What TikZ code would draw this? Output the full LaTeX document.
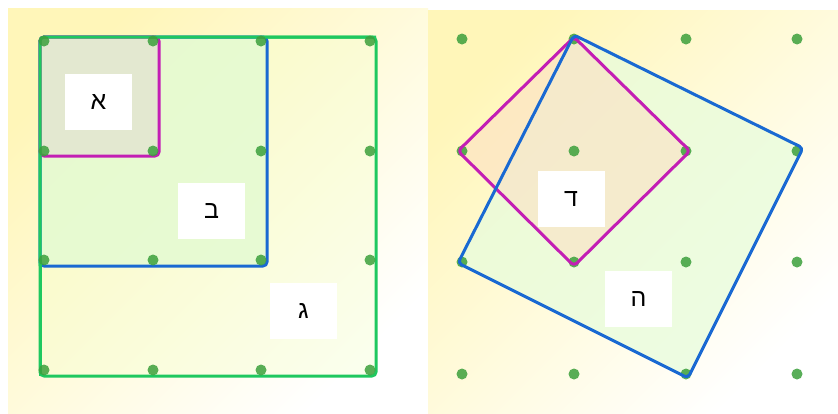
\documentclass[tikz,border=0pt]{standalone}
\usepackage{fontspec}
\newfontfamily\hebfont[Script=Hebrew]{Liberation Sans}
\TeXXeTstate=1
\definecolor{gline}{RGB}{30,200,95}
\definecolor{mline}{RGB}{195,30,180}
\definecolor{bline}{RGB}{25,105,210}
\definecolor{dotc}{RGB}{60,160,60}
\definecolor{bgy}{RGB}{255,246,185}
\tikzset{
  x=1pt,y=-1pt,
  gdot/.style={circle,fill=dotc,fill opacity=0.85,inner sep=0pt,minimum size=11pt},
  lbl/.style={fill=white,minimum width=67pt,minimum height=56pt,inner sep=0pt,font=\hebfont\fontsize{25}{25}\selectfont},
  edge/.style={line width=3pt,rounded corners=4pt,line join=round},
}
\begin{document}
\begin{tikzpicture}
\useasboundingbox (0,0) rectangle (838,413);
\fill[white] (0,0) rectangle (838,413);
% backgrounds
\shade[left color=bgy,right color=white,shading angle=45] (8,8) rectangle (428,413);
\shade[left color=bgy,right color=white,shading angle=45] (428,10) rectangle (838,413);
% left panel squares
\coordinate (o) at (40,37);
\filldraw[edge,draw=gline,fill=green!25!yellow!20,fill opacity=0.35] (o) rectangle (376,376);
\filldraw[edge,draw=bline,fill={rgb,255:red,228;green,250;blue,210},fill opacity=0.85] (o) rectangle (267,266);
\filldraw[edge,draw=mline,fill={rgb,255:red,227;green,232;blue,208}] (o) rectangle (159,156);
% redraw green outer top/left edges on top
\draw[edge,draw=gline] (40,266) |- (376,37);
\draw[edge,draw=gline] (40,260) -- (40,376);
% left dots
\foreach \x in {44,153,261,370}
  \foreach \y in {41,151,260,370}
    \node[gdot] at (\x,\y) {};
% left labels
\node[lbl] (la) at (98.5,102) {\beginR א\endR};
\node[lbl] (lb) at (211.5,211) {\beginR ב\endR};
\node[lbl] (lg) at (303.5,311) {\beginR ג\endR};
% right panel shapes
\coordinate (h1) at (574,35);
\coordinate (h2) at (803,148);
\coordinate (h3) at (688,378);
\coordinate (h4) at (458,263);
\coordinate (d1) at (574,37);
\coordinate (d2) at (690,151);
\coordinate (d3) at (574,266);
\coordinate (d4) at (458,151);
\fill[fill={rgb,255:red,232;green,252;blue,220},fill opacity=0.75] (h1) -- (h2) -- (h3) -- (h4) -- cycle;
\fill[fill={rgb,255:red,253;green,222;blue,195},fill opacity=0.55] (d1) -- (d2) -- (d3) -- (d4) -- cycle;
% right panel dots
\foreach \x in {462,574,686,797}
  \foreach \y in {39,151,262,374}
    \node[gdot] at (\x,\y) {};
\draw[edge,draw=mline] (d1) -- (d2) -- (d3) -- (d4) -- cycle;
\draw[edge,draw=bline] (h1) -- (h2) -- (h3) -- (h4) -- cycle;
\node[lbl] (ld) at (571,199) {\beginR ד\endR};
\node[lbl] (lh) at (638.5,299) {\beginR ה\endR};
\end{tikzpicture}
\end{document}
